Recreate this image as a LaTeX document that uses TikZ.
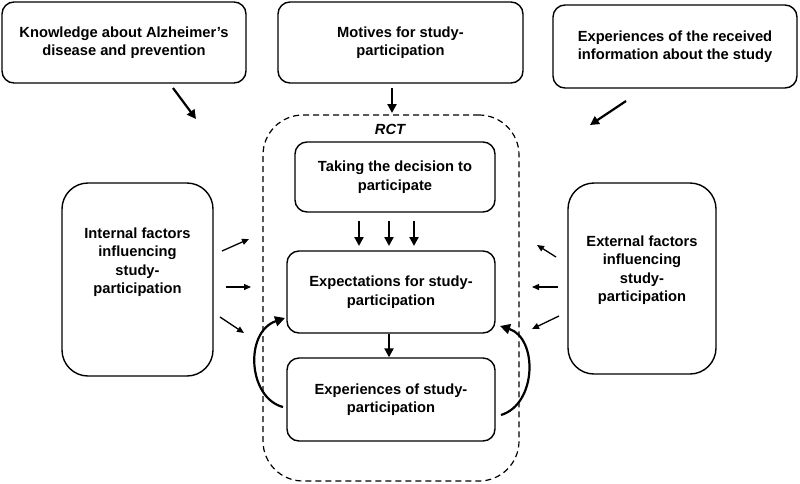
\documentclass[tikz,border=0pt]{standalone}
\usepackage{fontspec}
\setmainfont{Liberation Sans}
\usetikzlibrary{arrows.meta,calc}
\begin{document}
\begin{tikzpicture}[x=1pt,y=-1pt,
  txt/.style={align=center,font=\bfseries\fontsize{14.7}{18.5}\selectfont,inner sep=0pt},
  box/.style={txt,draw,line width=1.4pt,rounded corners=12pt},
  bigbox/.style={draw,line width=1.4pt,rounded corners=26pt},
  container/.style={draw,line width=1.2pt,dash pattern=on 6pt off 4pt,rounded corners=40pt},
  thickarrow/.style={line width=2.2pt,-{Triangle[length=9pt,width=9pt]}},
  thinarrow/.style={line width=1.3pt,-{Triangle[length=7pt,width=6pt]}},
  curvearrow/.style={line width=2.2pt,-{Triangle[length=10pt,width=10pt]}}]
\useasboundingbox (0,0) rectangle (800,483);

% top boxes
\node[box,minimum width=244pt,minimum height=81pt] (know) at (124,42.5) {Knowledge about Alzheimer’s\\disease and prevention};
\node[box,minimum width=245pt,minimum height=81pt] (motiv) at (400.5,42.5) {Motives for study-\\participation};
\node[box,minimum width=244pt,minimum height=83pt] (info) at (675,46.5) {Experiences of the received\\information about the study};

% RCT container
\node[container,minimum width=256pt,minimum height=366pt] (rct) at (391,298) {};
\node[txt,font=\bfseries\itshape\fontsize{14.7}{18.5}\selectfont] (rctlab) at (390,129) {RCT};

% inner boxes
\node[box,minimum width=200pt,minimum height=70pt] (take) at (395,177) {Taking the decision to\\participate};
\node[box,minimum width=208pt,minimum height=82pt] (expect) at (391,292) {Expectations for study-\\participation};
\node[box,minimum width=208pt,minimum height=83pt] (exper) at (391,399.5) {Experiences of study-\\participation};

% side boxes
\node[bigbox,minimum width=151pt,minimum height=193pt] (int) at (137.5,279.5) {};
\node[txt] (intt) at (137.5,262) {Internal factors\\influencing\\study-\\participation};
\node[bigbox,minimum width=148pt,minimum height=191pt] (ext) at (642,278.5) {};
\node[txt] (extt) at (642,270) {External factors\\influencing\\study-\\participation};

% coordinates for free ends
\coordinate (k1) at (173,88);  \coordinate (k2) at (196,119);
\coordinate (m1) at (392,88);  \coordinate (m2) at (392,113);
\coordinate (i1) at (626,101); \coordinate (i2) at (590,125);
\foreach \n/\x in {a/359,b/389,c/414}{
  \coordinate (t\n1) at (\x,221);
  \coordinate (t\n2) at (\x,246);
}
\coordinate (l11) at (222,251); \coordinate (l12) at (249,239);
\coordinate (l21) at (226,287); \coordinate (l22) at (251,287);
\coordinate (l31) at (220,317); \coordinate (l32) at (244,333);
\coordinate (r11) at (556,257); \coordinate (r12) at (537,245);
\coordinate (r21) at (558,287); \coordinate (r22) at (532,287);
\coordinate (r31) at (559,316); \coordinate (r32) at (532,329);
\coordinate (cl1) at (283,407); \coordinate (cl2) at (285,318);
\coordinate (cr1) at (501,415); \coordinate (cr2) at (500,326);

% arrows
\draw[thickarrow] (k1) -- (k2);
\draw[thickarrow] (m1) -- (m2);
\draw[thickarrow] (i1) -- (i2);
\draw[thickarrow] (ta1) -- (ta2);
\draw[thickarrow] (tb1) -- (tb2);
\draw[thickarrow] (tc1) -- (tc2);
\draw[thickarrow] (expect.south -| 389,0) -- (exper.north -| 389,0);
\draw[thinarrow] (l11) -- (l12);
\draw[thinarrow] (l21) -- (l22);
\draw[thinarrow] (l31) -- (l32);
\draw[thinarrow] (r11) -- (r12);
\draw[thinarrow] (r21) -- (r22);
\draw[thinarrow] (r31) -- (r32);
\draw[curvearrow] (cl1) .. controls (248,398) and (244,332) .. (cl2);
\draw[curvearrow] (cr1) .. controls (537,404) and (538,338) .. (cr2);
\end{tikzpicture}
\end{document}
